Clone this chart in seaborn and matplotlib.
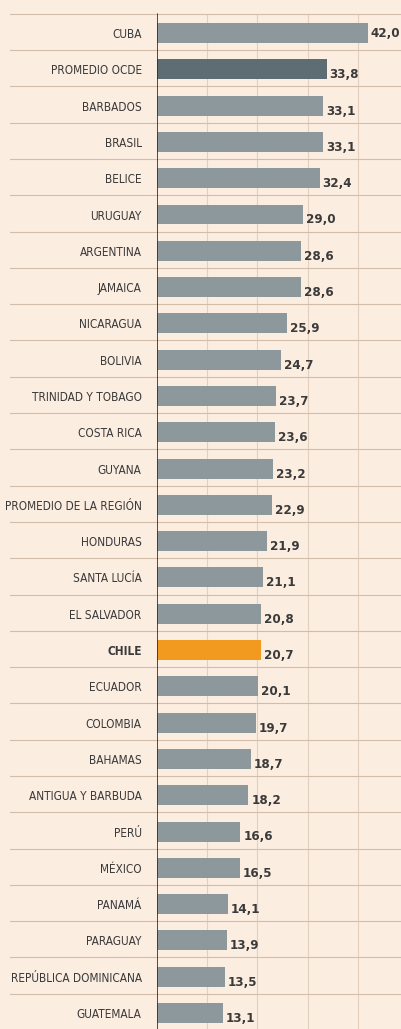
import matplotlib
matplotlib.use("Agg")
import matplotlib.pyplot as plt
import matplotlib.transforms as mtransforms
import seaborn as sns
import pandas as pd

# data
paises = [
    "CUBA", "PROMEDIO OCDE", "BARBADOS", "BRASIL", "BELICE", "URUGUAY",
    "ARGENTINA", "JAMAICA", "NICARAGUA", "BOLIVIA", "TRINIDAD Y TOBAGO",
    "COSTA RICA", "GUYANA", "PROMEDIO DE LA REGIÓN", "HONDURAS",
    "SANTA LUCÍA", "EL SALVADOR", "CHILE", "ECUADOR", "COLOMBIA", "BAHAMAS",
    "ANTIGUA Y BARBUDA", "PERÚ", "MÉXICO", "PANAMÁ", "PARAGUAY",
    "REPÚBLICA DOMINICANA", "GUATEMALA",
]
valores = [
    42.0, 33.8, 33.1, 33.1, 32.4, 29.0, 28.6, 28.6, 25.9, 24.7, 23.7,
    23.6, 23.2, 22.9, 21.9, 21.1, 20.8, 20.7, 20.1, 19.7, 18.7, 18.2,
    16.6, 16.5, 14.1, 13.9, 13.5, 13.1,
]
grid_ticks = [10, 20, 30, 40]

df = pd.DataFrame({"pais": paises, "valor": valores})

gris = "#8d989d"
colores = {p: gris for p in paises}
colores["PROMEDIO OCDE"] = "#5d6d73"
colores["CHILE"] = "#f29a1f"

fondo = "#fcede1"
texto = "#3a3a3a"

sns.set_style("white")
plt.rcParams["font.family"] = "DejaVu Sans"
plt.rcParams["font.stretch"] = "condensed"

fig = plt.figure(figsize=(4.01, 10.29), dpi=100, facecolor=fondo)
ax = fig.add_axes([157 / 401, 0, 1 - 157 / 401, 1])
ax.set_facecolor(fondo)

sns.barplot(data=df, x="valor", y="pais", hue="pais", palette=colores,
            legend=False, orient="h", width=0.55, saturation=1, ax=ax,
            linewidth=0, zorder=3)

n = len(paises)
ax.set_xlim(0, 48.6)
ax.set_ylim(27.44, -0.91)

# vertical grid and axis line
ax.vlines(grid_ticks, -0.53, 27.44, color="#e3cfbd", lw=0.8, zorder=1)
ax.plot([0, 0], [-0.53, 27.44], color="#2e2e2e", lw=1.2, zorder=4)

# row separators running into the label area
trans = mtransforms.blended_transform_factory(fig.transFigure, ax.transData)
for i in range(n):
    ax.plot([10 / 401, 1], [i - 0.53, i - 0.53], color="#d2bda9", lw=0.8,
            transform=trans, clip_on=False, zorder=2)

for i, v in enumerate(valores):
    dy = 0.0 if i == 0 else 0.15
    ax.text(v + 0.6, i + dy, f"{v:.1f}".replace(".", ","), ha="left",
            va="center", fontsize=9.5, fontweight="bold", color=texto,
            fontstretch="condensed", zorder=5)

for s in ax.spines.values():
    s.set_visible(False)
ax.set_xticks([])
ax.set_xlabel("")
ax.set_ylabel("")
ax.tick_params(axis="y", length=0, pad=11)
for lab in ax.get_yticklabels():
    lab.set_fontsize(8.5)
    lab.set_color(texto)
    lab.set_fontstretch("condensed")
    if lab.get_text() == "CHILE":
        lab.set_fontweight("bold")

fig.savefig("out.png", dpi=100, facecolor=fondo)
